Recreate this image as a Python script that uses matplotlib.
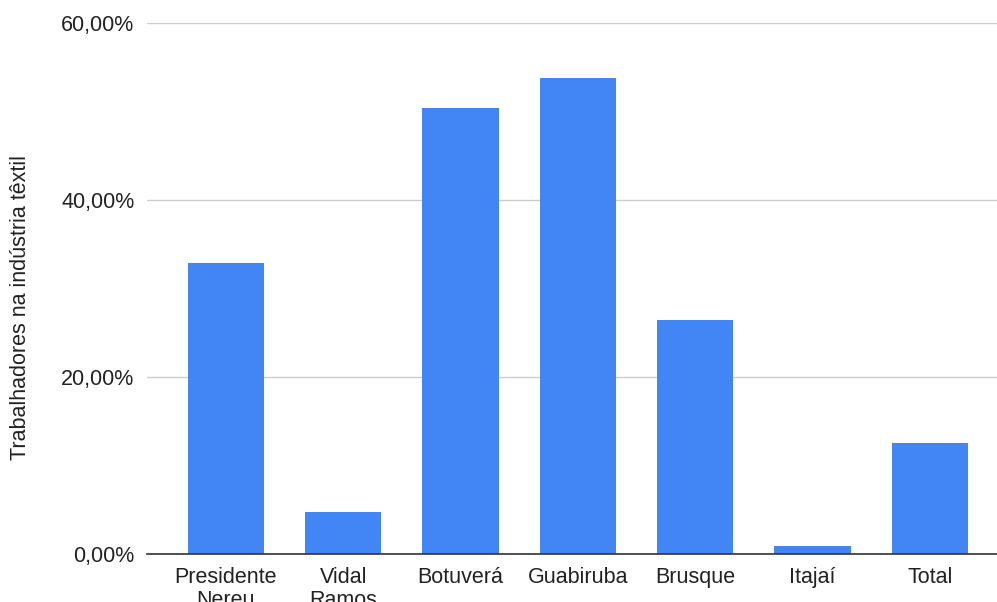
import matplotlib.pyplot as plt
from matplotlib.ticker import FuncFormatter

municipios = ["Presidente\nNereu", "Vidal\nRamos", "Botuverá", "Guabiruba",
              "Brusque", "Itajaí", "Total"]
percentuais = [32.9, 4.8, 50.4, 53.8, 26.4, 0.9, 12.5]
y_ticks = [0, 20, 40, 60]

plt.rcParams['font.family'] = ['Liberation Sans', 'DejaVu Sans']

fig = plt.figure(figsize=(9.97, 6.02), dpi=100)
ax = fig.add_axes([0.1474, 0.0797, 0.8526, 0.8821])

x = range(len(municipios))
ax.bar(x, percentuais, width=0.65, color='#4285F4', zorder=3)

ax.set_xlim(-0.673, 6.573)
ax.set_ylim(0, 60)
ax.set_yticks(y_ticks)
ax.yaxis.set_major_formatter(FuncFormatter(lambda v, p: f"{v:.2f}%".replace('.', ',')))
ax.set_xticks(list(x))
ax.set_xticklabels(municipios, linespacing=1.12)

ax.grid(axis='y', color='#cccccc', linewidth=1, zorder=0)
for side in ['top', 'right', 'left']:
    ax.spines[side].set_visible(False)
ax.spines['bottom'].set_color('#333333')
ax.spines['bottom'].set_linewidth(1.2)
ax.spines['bottom'].set_zorder(4)

ax.tick_params(axis='both', length=0, labelsize=15.5, colors='#222222')
ax.tick_params(axis='y', pad=9)
ax.tick_params(axis='x', pad=9.5)

fig.text(0.021, 1 - 307 / 602, "Trabalhadores na indústria têxtil",
         rotation=90, ha='center', va='center', fontsize=15.5, color='#222222')

fig.savefig('out.png', dpi=100)
